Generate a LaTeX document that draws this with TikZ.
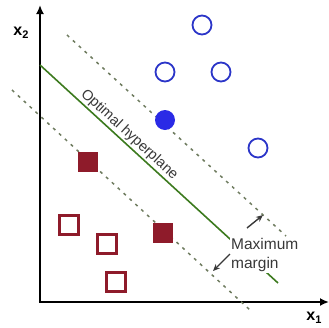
\documentclass[tikz,border=0pt]{standalone}
\usepackage{fontspec}
\setmainfont{Liberation Sans}
\usetikzlibrary{arrows.meta}
\definecolor{bluec}{HTML}{2B35C8}
\definecolor{bluef}{HTML}{2A2AE6}
\definecolor{redc}{HTML}{8E1B2A}
\definecolor{greenl}{HTML}{3C7A1E}
\definecolor{dashc}{HTML}{6F7C60}
\definecolor{txtc}{HTML}{383838}
\tikzset{
  opencirc/.style={circle,draw=bluec,line width=1.8pt,minimum size=19pt,inner sep=0pt},
  fillcirc/.style={circle,fill=bluef,minimum size=20pt,inner sep=0pt},
  opensq/.style={rectangle,draw=redc,line width=2.4pt,minimum size=19pt,inner sep=0pt},
  fillsq/.style={rectangle,fill=redc,minimum size=20pt,inner sep=0pt},
  axisline/.style={line width=2.2pt,-{Latex[length=9pt,width=8pt]}},
  marginline/.style={dashc,line width=1.5pt,dash pattern=on 3pt off 5pt},
  marrow/.style={txtc,line width=1.4pt,-{Stealth[length=7pt,width=6pt]}},
}
\begin{document}
\begin{tikzpicture}[x=1pt,y=-1pt]
\useasboundingbox (0,0) rectangle (329,327);
% axes
\coordinate (o) at (40,302);
\coordinate (ytop) at (40,5);
\coordinate (xend) at (329,302);
\draw[axisline] (o) -- (ytop);
\draw[axisline] ([xshift=-1.1pt]o) -- (xend);
\node[font=\fontsize{16}{16}\selectfont\bfseries, text=black] (ylab) at (21,33) {x\raisebox{-0.4ex}{\fontsize{11}{11}\selectfont 2}};
\node[font=\fontsize{16}{16}\selectfont\bfseries, text=black] (xlab) at (314,318) {x\raisebox{-0.4ex}{\fontsize{11}{11}\selectfont 1}};
% margin lines
\coordinate (u1) at (67,35);
\coordinate (u2) at (286,236);
\coordinate (l1) at (12,90);
\coordinate (l2) at (250,310);
\draw[marginline] (u1) -- (u2);
\draw[marginline] (l1) -- (l2);
% hyperplane
\coordinate (g1) at (40,65);
\coordinate (g2) at (278,283);
\draw[greenl,line width=1.6pt] (g1) -- (g2);
\path (g1) -- (g2) node[pos=0.35,sloped,above,inner sep=2pt,font=\fontsize{14.5}{14.5}\selectfont,text=txtc] (hyp) {Optimal hyperplane};
% points
\node[opencirc] (c1) at (202,25) {};
\node[opencirc] (c2) at (165,72) {};
\node[opencirc] (c3) at (221,72) {};
\node[opencirc] (c4) at (258,148) {};
\node[fillcirc] (c5) at (165,120) {};
\node[fillsq] (s1) at (88,162) {};
\node[fillsq] (s2) at (163,233) {};
\node[opensq] (s3) at (69,225) {};
\node[opensq] (s4) at (107,244) {};
\node[opensq] (s5) at (116,282) {};
% margin label
\node[anchor=west,align=left,fill=white,inner sep=1pt,font=\fontsize{15.5}{19}\selectfont,text=txtc] (mm) at (230,255) {Maximum\\margin};
\coordinate (a1s) at (247,228);
\coordinate (a1e) at (263,215);
\coordinate (a2s) at (230,254);
\coordinate (a2e) at (213,271);
\draw[marrow] (a1s) -- (a1e);
\draw[marrow] (a2s) -- (a2e);
\end{tikzpicture}
\end{document}
